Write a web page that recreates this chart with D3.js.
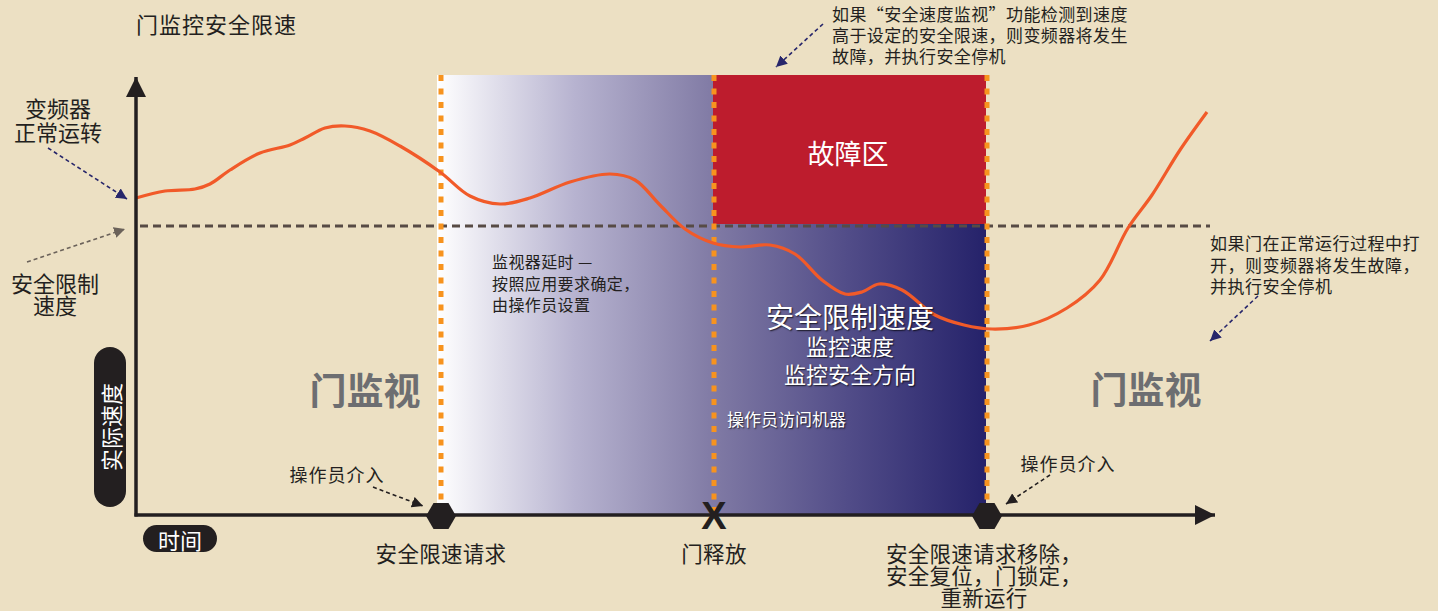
<!DOCTYPE html>
<html><head><meta charset="utf-8">
<script src="https://cdn.jsdelivr.net/npm/d3@7"></script>
<style>
html,body{margin:0;padding:0;background:#ece0c3;}
svg{display:block;font-family:"Noto Sans CJK SC","Noto Sans",sans-serif;}
</style></head>
<body><svg id="c" width="1438" height="611"></svg>
<script>
// ---- data ----
const curveTime  = [0, 29, 59, 74, 94, 124, 154, 169, 189, 209, 234, 264, 304, 334, 364, 394, 434, 474, 499, 524, 549, 577, 604, 634, 659, 686, 709, 726, 743, 766, 799, 828, 856, 893, 931, 964, 992, 1016, 1044, 1071];
const curveSpeed = [317, 324, 326, 331, 345, 362, 370, 377, 387, 389, 384, 369, 343, 319, 311, 317, 333, 341, 335, 310, 286, 272, 268, 270, 261, 235, 221, 223, 231, 225, 200, 190, 186, 190, 207, 235, 287, 320, 365, 403];
const speedLimit = 289;
const zoneTop = 440;
const eventTimes = [304, 577, 850];
const eventKinds = ["hex", "x", "hex"];
const eventLabels = [["安全限速请求"], ["门释放"], ["安全限速请求移除，", "安全复位，门锁定，", "重新运行"]];
const axisLabelY = "实际速度";
const axisLabelX = "时间";
const title = "门监控安全限速";

// ---- scales ----
const svg = d3.select("#c");
const x = d3.scaleLinear().domain([0, 1080]).range([136, 1216]);
const y = d3.scaleLinear().domain([0, 440]).range([515, 75]);

const defs = svg.append("defs");
const grad = defs.append("linearGradient").attr("id", "g1").attr("x1", 0).attr("x2", 1).attr("y1", 0).attr("y2", 0);
[[0, "#ffffff"], [0.25, "#b7b3d0"], [0.5, "#817ba5"], [0.75, "#514c88"], [1, "#25226a"]].forEach(s =>
  grad.append("stop").attr("offset", s[0]).attr("stop-color", s[1]));

function marker(id, color, size) {
  defs.append("marker").attr("id", id).attr("viewBox", "0 0 10 10").attr("refX", 10).attr("refY", 5)
    .attr("markerWidth", size).attr("markerHeight", size).attr("markerUnits", "userSpaceOnUse")
    .attr("orient", "auto").append("path").attr("d", "M0,0L10,5L0,10Z").attr("fill", color);
}
marker("mNavy", "#27266b", 11);
marker("mGray", "#6b625a", 11);
marker("mBlack", "#231f20", 11);
marker("mAxis", "#231f20", 20);

svg.append("rect").attr("width", 1438).attr("height", 611).attr("fill", "#ece0c3");

// ---- regions ----
svg.append("rect").attr("x", x(eventTimes[0]) - 3).attr("y", y(zoneTop))
  .attr("width", x(eventTimes[2]) - x(eventTimes[0]) + 3).attr("height", y(0) - y(zoneTop)).attr("fill", "url(#g1)");
svg.append("rect").attr("x", x(eventTimes[1])).attr("y", y(zoneTop))
  .attr("width", x(eventTimes[2]) - x(eventTimes[1])).attr("height", y(speedLimit) - y(zoneTop) - 2).attr("fill", "#bd1c2d");

// speed limit dashed line
svg.append("line").attr("x1", x(4)).attr("x2", x(1074)).attr("y1", y(speedLimit)).attr("y2", y(speedLimit))
  .attr("stroke", "#574b45").attr("stroke-width", 3).attr("stroke-dasharray", "8,5");

// orange event lines
svg.selectAll("line.ev").data(eventTimes).enter().append("line").attr("class", "ev")
  .attr("x1", d => x(d) + 1).attr("x2", d => x(d) + 1).attr("y1", y(zoneTop)).attr("y2", y(0))
  .attr("stroke", "#f7931e").attr("stroke-width", 5).attr("stroke-dasharray", "6,7.5");

// curve
const pts = curveTime.map((t, i) => [t, curveSpeed[i]]);
svg.append("path").datum(pts)
  .attr("d", d3.line().x(d => x(d[0])).y(d => y(d[1])).curve(d3.curveCatmullRom.alpha(0.5)))
  .attr("fill", "none").attr("stroke", "#f15a29").attr("stroke-width", 3.2);

// axes
svg.append("line").attr("x1", x(0)).attr("x2", x(0)).attr("y1", y(0) + 1.5).attr("y2", y(438))
  .attr("stroke", "#231f20").attr("stroke-width", 3.5).attr("marker-end", "url(#mAxis)");
svg.append("line").attr("x1", x(0) - 1.5).attr("x2", x(1079)).attr("y1", y(0)).attr("y2", y(0))
  .attr("stroke", "#231f20").attr("stroke-width", 3.5).attr("marker-end", "url(#mAxis)");

// event symbols
const hexR = 15;
eventTimes.forEach((t, i) => {
  const cx = x(t) + 1, cy = y(0) + 1;
  if (eventKinds[i] === "hex") {
    const hp = d3.range(6).map(k => [cx + hexR * Math.cos(k * Math.PI / 3), cy + hexR * Math.sin(k * Math.PI / 3)]);
    svg.append("polygon").attr("points", hp.map(p => p.join(",")).join(" ")).attr("fill", "#231f20");
  } else {
    svg.append("text").attr("x", cx).attr("y", cy + 13).attr("text-anchor", "middle")
      .attr("font-family", "Liberation Sans, Arial, sans-serif").attr("font-weight", "bold").attr("font-size", 38)
      .attr("fill", "#231f20").text("X");
  }
  eventLabels[i].forEach((s, j) => {
    svg.append("text").attr("x", cx + (i === 2 ? -3 : 0)).attr("y", 552 + j * 22).attr("text-anchor", "middle")
      .attr("dominant-baseline", "central").attr("font-size", 21.5).attr("letter-spacing", 0.3)
      .attr("fill", "#231f20").text(s);
  });
});

// ---- text helper ----
function txt(px, py, s, o = {}) {
  const t = svg.append("text").attr("x", px).attr("y", py).attr("dominant-baseline", "central")
    .attr("font-size", o.size || 16).attr("fill", o.fill || "#231f20")
    .attr("text-anchor", o.anchor || "start").text(s);
  if (o.weight) t.attr("font-weight", o.weight);
  if (o.shadow) t.style("text-shadow", "1px 1px 1.5px rgba(0,0,0,0.75)");
  if (o.ls) t.attr("letter-spacing", o.ls);
  return t;
}
function arrow(x1, y1, x2, y2, color, m) {
  svg.append("line").attr("x1", x1).attr("y1", y1).attr("x2", x2).attr("y2", y2)
    .attr("stroke", color).attr("stroke-width", 1.6).attr("stroke-dasharray", "4,3").attr("marker-end", `url(#${m})`);
}

txt(136, 23, title, { size: 22, ls: 1 });

txt(58, 107, "变频器", { size: 22, anchor: "middle" });
txt(58, 131, "正常运转", { size: 22, anchor: "middle" });
arrow(48, 148, 127, 199, "#27266b", "mNavy");

txt(55, 282, "安全限制", { size: 22, anchor: "middle" });
txt(55, 304, "速度", { size: 22, anchor: "middle" });
arrow(27, 262, 125, 229, "#6b625a", "mGray");

// y label pill
svg.append("rect").attr("x", 94).attr("y", 347).attr("width", 32).attr("height", 160).attr("rx", 16).attr("fill", "#231f20");
svg.append("text").attr("transform", "translate(110,427) rotate(-90)").attr("text-anchor", "middle")
  .attr("dominant-baseline", "central").attr("font-size", 22).attr("fill", "#ffffff").text(axisLabelY);
// x label pill
svg.append("rect").attr("x", 143).attr("y", 525).attr("width", 74).attr("height", 27).attr("rx", 13.5).attr("fill", "#231f20");
txt(180, 539, axisLabelX, { size: 22, anchor: "middle", fill: "#ffffff" });

txt(365, 389, "门监视", { size: 37, anchor: "middle", fill: "#6d6e71", weight: "bold" });
txt(1146, 388, "门监视", { size: 37, anchor: "middle", fill: "#6d6e71", weight: "bold" });

txt(337, 474, "操作员介入", { size: 18, anchor: "middle", ls: 1 });
arrow(373, 487, 423, 506, "#231f20", "mBlack");
txt(1068, 463, "操作员介入", { size: 18, anchor: "middle", ls: 1 });
arrow(1050, 475, 1006, 504, "#231f20", "mBlack");

// top annotation
["如果“安全速度监视”功能检测到速度", "高于设定的安全限速，则变频器将发生", "故障，并执行安全停机"]
  .forEach((s, i) => txt(832, 13.5 + i * 21, s, { size: 17, ls: 0.4 }));
arrow(823, 24, 776, 67, "#27266b", "mNavy");

// right annotation
["如果门在正常运行过程中打", "开，则变频器将发生故障，", "并执行安全停机"]
  .forEach((s, i) => txt(1210, 242.5 + i * 21.5, s, { size: 17, ls: 0.5 }));
arrow(1258, 296, 1210, 341, "#27266b", "mNavy");

txt(848, 152, "故障区", { size: 27, anchor: "middle", fill: "#ffffff" });

["监视器延时 —", "按照应用要求确定，", "由操作员设置"]
  .forEach((s, i) => txt(492, 261 + i * 21.5, s, { size: 16, ls: 0.4 }));

txt(850, 316, "安全限制速度", { size: 28, anchor: "middle", fill: "#ffffff", shadow: true });
txt(850, 345, "监控速度", { size: 22, anchor: "middle", fill: "#ffffff", shadow: true });
txt(850, 373, "监控安全方向", { size: 22, anchor: "middle", fill: "#ffffff", shadow: true });
txt(727, 418, "操作员访问机器", { size: 17, fill: "#ffffff", shadow: true });
</script>
</body></html>
